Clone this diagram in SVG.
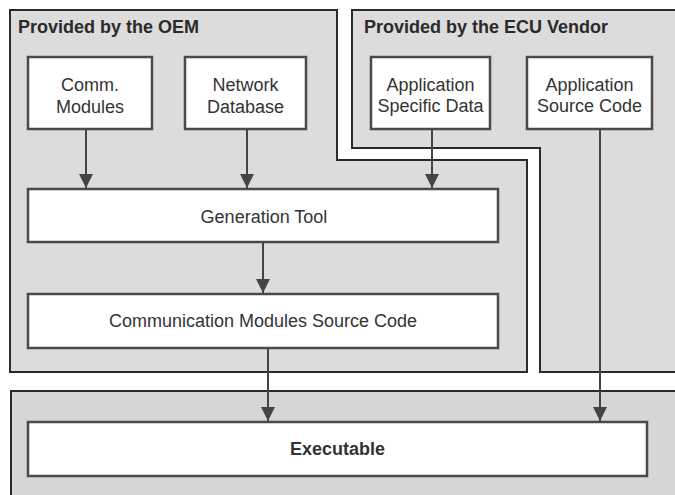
<svg xmlns="http://www.w3.org/2000/svg" width="675" height="495" viewBox="0 0 675 495">
<defs>
<style>
.region{fill:#dcdcdc;stroke:#2a2a2a;stroke-width:2}
.exec-region{fill:#d6d6d6;stroke:#2a2a2a;stroke-width:2}
.box{fill:#ffffff;stroke:#4a4a4a;stroke-width:2.5}
.title{font-family:"Liberation Sans",Arial,sans-serif;font-weight:bold;font-size:18px;fill:#2a2a2a}
.lbl{font-family:"Liberation Sans",Arial,sans-serif;font-size:18px;fill:#333333;text-anchor:middle}
.bold{font-weight:bold}
.conn{stroke:#444444;stroke-width:2;fill:none;marker-end:url(#arr)}
</style>
<marker id="arr" markerUnits="userSpaceOnUse" markerWidth="15" markerHeight="14" refX="14" refY="7" orient="auto" viewBox="0 0 15 14">
<path d="M0,0 L14,7 L0,14 Z" fill="#444444"/>
</marker>
</defs>
<rect x="0" y="0" width="675" height="495" fill="#ffffff"/>
<g id="region-oem">
<path class="region" d="M10,10 H337 V160 H527 V372 H10 Z"/>
<text class="title" x="18" y="33">Provided by the OEM</text>
</g>
<g id="region-ecu">
<path class="region" d="M352,10 H682 V372 H540 V148 H352 Z"/>
<text class="title" x="364" y="33">Provided by the ECU Vendor</text>
</g>
<g id="region-exec">
<path class="exec-region" d="M11,391 H682 V502 H11 Z"/>
</g>
<g id="node-comm-modules">
<rect class="box" x="28" y="57" width="124" height="72"/>
<text class="lbl" x="90" y="91">Comm.</text>
<text class="lbl" x="90" y="113">Modules</text>
</g>
<g id="node-network-db">
<rect class="box" x="185" y="57" width="121" height="72"/>
<text class="lbl" x="245.5" y="91">Network</text>
<text class="lbl" x="245.5" y="113">Database</text>
</g>
<g id="node-app-data">
<rect class="box" x="371" y="57" width="119" height="72"/>
<text class="lbl" x="430.5" y="91">Application</text>
<text class="lbl" x="430.5" y="112">Specific Data</text>
</g>
<g id="node-app-source">
<rect class="box" x="527" y="57" width="125" height="72"/>
<text class="lbl" x="589.5" y="91">Application</text>
<text class="lbl" x="589.5" y="112">Source Code</text>
</g>
<g id="node-gen-tool">
<rect class="box" x="28" y="189" width="470" height="53"/>
<text class="lbl" x="264" y="223">Generation Tool</text>
</g>
<g id="node-cm-source">
<rect class="box" x="28" y="294" width="470" height="54"/>
<text class="lbl" x="263" y="327">Communication Modules Source Code</text>
</g>
<g id="node-executable">
<rect class="box" x="28" y="422" width="619" height="54"/>
<text class="lbl bold" x="337.5" y="455">Executable</text>
</g>
<g id="connectors">
<path class="conn" d="M86,129 V188"/>
<path class="conn" d="M247,129 V188"/>
<path class="conn" d="M432,129 V188"/>
<path class="conn" d="M263,242 V293"/>
<path class="conn" d="M268,348 V421"/>
<path class="conn" d="M600,129 V421"/>
</g>
</svg>
